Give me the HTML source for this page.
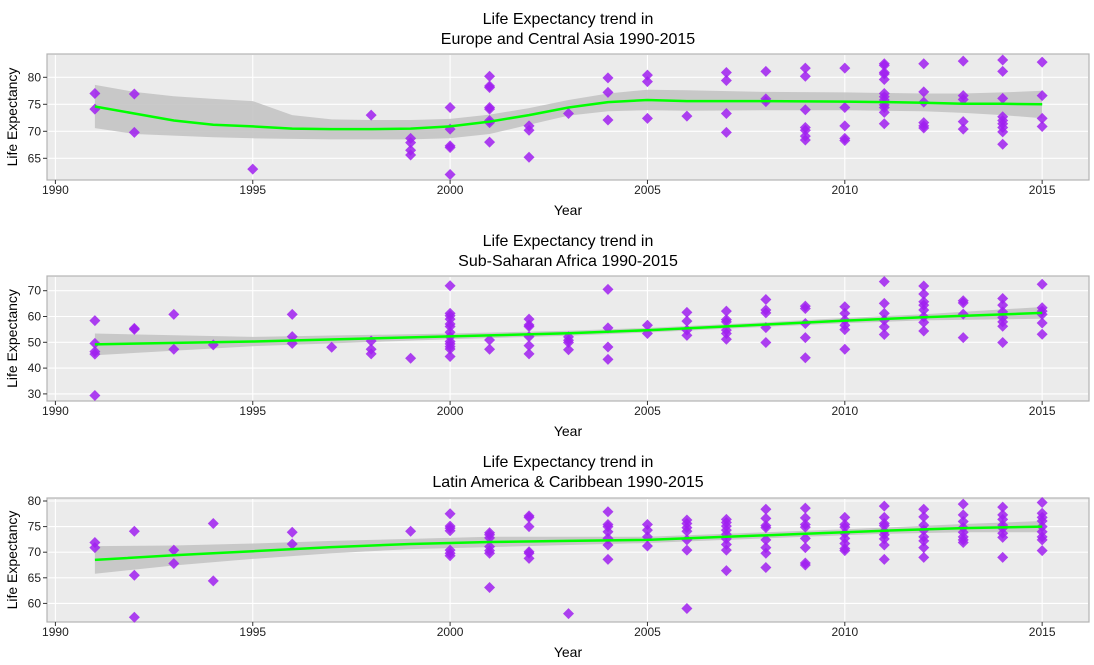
<!DOCTYPE html>
<html><head><meta charset="utf-8">
<style>
html,body{margin:0;padding:0;background:#fff;}
svg{display:block;font-family:"Liberation Sans",Arial,sans-serif;}
</style></head>
<body>
<svg id="chart" width="1094" height="665" viewBox="0 0 1094 665"></svg>
<script>
// ---- Panel 1: Europe and Central Asia ----
const p1Years = [1991,1992,1995,1998,1999,2000,2001,2002,2003,2004,2005,2006,2007,2008,2009,2010,2011,2012,2013,2014,2015];
const p1Values = [[77.0,74.1],[76.9,69.8],[63.0],[73.0],[68.7,67.9,66.5,65.6],[74.4,70.4,67.3,67.0,62.0],[80.2,78.4,78.1,74.4,74.1,72.0,71.6,68.0],[71.0,70.2,65.2],[73.3],[79.9,77.2,72.1],[80.4,79.2,72.4],[72.8],[80.9,79.4,73.3,69.8],[81.1,76.0,75.5],[81.7,80.2,74.0,70.7,70.2,69.1,68.4],[81.7,74.4,71.0,68.7,68.3],[82.5,82.2,80.9,80.6,79.6,77.0,76.4,75.8,74.9,74.4,73.5,71.4],[82.5,77.3,75.4,71.6,71.0,70.6],[83.0,76.6,75.9,71.8,70.4],[83.2,81.1,76.1,72.7,72.0,71.4,70.7,69.9,67.6],[82.8,76.6,72.4,70.9]];
const p1SmoothYears = [1991,1992,1993,1994,1995,1996,1997,1998,1999,2000,2001,2002,2003,2004,2005,2006,2008,2010,2011,2012,2013,2014,2015];
const p1Smooth = [74.6,73.3,72.0,71.2,70.9,70.5,70.4,70.4,70.5,70.9,71.8,73.0,74.4,75.4,75.8,75.6,75.6,75.5,75.4,75.3,75.1,75.1,75.0];
const p1Upper = [78.6,77.3,76.5,76.0,75.6,73.0,72.2,72.1,72.1,72.3,73.1,74.3,75.8,77.0,77.7,77.6,77.3,77.2,77.1,77.0,77.0,77.2,77.5];
const p1Lower = [70.6,69.5,69.2,68.9,68.7,68.6,68.5,68.5,68.5,68.7,69.5,71.2,72.9,73.7,73.9,73.8,73.9,73.9,73.8,73.7,73.4,73.0,72.4];
const p1YTicks = [65,70,75,80];

// ---- Panel 2: Sub-Saharan Africa ----
const p2Years = [1991,1992,1993,1994,1996,1997,1998,1999,2000,2001,2002,2003,2004,2005,2006,2007,2008,2009,2010,2011,2012,2013,2014,2015];
const p2Values = [[58.4,49.6,46.4,45.4,29.4],[55.4,55.0],[60.8,47.3],[49.0],[60.8,52.2,49.6],[48.1],[50.5,47.3,45.5],[43.8],[71.9,61.2,60.3,59.0,57.1,56.1,53.9,52.2,50.3,49.4,48.3,47.4,44.5],[50.9,47.3],[59.0,56.7,56.1,52.2,48.7,45.5],[52.1,50.8,49.9,47.1],[70.5,55.6,48.2,43.4],[56.6,53.4],[61.6,58.2,54.7,52.7],[62.1,58.8,57.9,54.7,53.4,51.2],[66.6,62.5,61.4,55.7,49.9],[64.0,63.1,57.3,51.8,44.0],[63.8,61.2,58.6,56.6,54.9,47.3],[73.5,65.1,61.2,58.6,56.0,53.0],[71.8,68.7,65.7,64.4,62.5,59.9,57.7,54.4],[66.1,65.3,60.9,51.8],[67.0,64.4,61.8,59.6,57.9,56.2,49.9],[72.5,63.4,62.1,60.8,57.5,53.1]];
const p2SmoothYears = [1991,1995,2000,2003,2005,2008,2010,2012,2015];
const p2Smooth = [49.2,50.3,52.3,53.5,54.7,56.9,58.4,59.7,61.4];
const p2Upper = [53.4,52.1,53.4,54.5,55.6,57.8,59.4,60.9,63.7];
const p2Lower = [45.0,48.5,51.2,52.5,53.8,56.0,57.4,58.5,59.1];
const p2YTicks = [30,40,50,60,70];

// ---- Panel 3: Latin America & Caribbean ----
const p3Years = [1991,1992,1993,1994,1996,1999,2000,2001,2002,2003,2004,2005,2006,2007,2008,2009,2010,2011,2012,2013,2014,2015];
const p3Values = [[71.9,70.9],[74.1,65.5,57.3],[70.4,67.8],[75.6,64.4],[73.9,71.6],[74.1],[77.5,75.1,74.7,74.2,70.4,69.8,69.3],[73.8,73.4,72.8,71.1,70.3,69.8,63.1],[77.1,76.8,75.0,70.1,69.8,68.8],[58.0],[77.9,75.4,75.0,74.0,72.7,71.4,68.6],[75.4,74.3,73.0,71.2],[76.3,75.6,74.8,74.1,72.4,70.4,59.0],[76.4,75.8,75.1,74.3,73.5,72.6,71.5,70.4,66.4],[78.4,76.6,75.2,74.8,72.4,70.9,69.8,67.0],[78.6,76.7,75.4,74.9,72.7,70.9,67.9,67.5],[76.8,75.4,74.9,73.7,72.7,71.7,70.7,70.3],[79.0,76.8,75.6,75.2,74.1,73.4,72.6,71.4,68.6],[78.4,76.9,75.3,74.3,73.0,72.2,70.9,69.0],[79.4,77.3,76.0,74.8,73.9,73.0,72.4,71.9],[78.8,77.3,76.4,75.3,74.7,73.7,72.9,69.0],[79.7,77.6,76.8,76.1,75.0,74.0,73.0,72.4,70.3]];
const p3SmoothYears = [1991,1993,1995,1997,1999,2001,2003,2005,2007,2009,2010,2011,2013,2015];
const p3Smooth = [68.5,69.4,70.2,71.0,71.6,72.0,72.2,72.4,73.0,73.6,73.9,74.2,74.7,75.0];
const p3Upper = [71.2,71.3,71.7,72.2,72.6,73.0,73.0,73.0,73.6,74.2,74.5,74.8,75.5,76.1];
const p3Lower = [65.8,67.4,68.7,69.8,70.6,71.0,71.4,71.8,72.4,73.0,73.3,73.6,73.9,73.9];
const p3YTicks = [60,65,70,75,80];

const xTicks = [1990,1995,2000,2005,2010,2015];

const NS = "http://www.w3.org/2000/svg";
const svg = document.getElementById('chart');
function mk(tag, attrs, parent){
  const e = document.createElementNS(NS, tag);
  for (const k in attrs) e.setAttribute(k, attrs[k]);
  (parent||svg).appendChild(e);
  return e;
}
const L = 47, R = 1089;
function xScale(yr){ return 55.4 + (yr-1990)*39.47; }

const panels = [
  {key:'europe', title1:'Life Expectancy trend in', title2:'Europe and Central Asia 1990-2015', top:54, bottom:180, y0:80, py0:77.3, ppu:5.4, ticks:p1YTicks, years:p1Years, vals:p1Values, sy:p1SmoothYears, sm:p1Smooth, up:p1Upper, lo:p1Lower, titleY:18},
  {key:'africa', title1:'Life Expectancy trend in', title2:'Sub-Saharan Africa 1990-2015', top:276, bottom:401, y0:70, py0:290.7, ppu:2.58, ticks:p2YTicks, years:p2Years, vals:p2Values, sy:p2SmoothYears, sm:p2Smooth, up:p2Upper, lo:p2Lower, titleY:240},
  {key:'latam', title1:'Life Expectancy trend in', title2:'Latin America & Caribbean 1990-2015', top:498, bottom:622, y0:80, py0:501, ppu:5.12, ticks:p3YTicks, years:p3Years, vals:p3Values, sy:p3SmoothYears, sm:p3Smooth, up:p3Upper, lo:p3Lower, titleY:461}
];

panels.forEach(p=>{
  const yS = v => p.py0 + (p.y0 - v)*p.ppu;
  const g = mk('g', {});
  
  
  const bg = mk('rect', {x:L, y:p.top, width:R-L, height:p.bottom-p.top, fill:'#ebebeb', stroke:'#b3b3b3', 'stroke-width':1.2}, g);
  
  
  p.ticks.forEach(t=>{
    const y = yS(t);
    const gl = mk('line', {x1:L+1, x2:R-1, y1:y, y2:y, stroke:'#fff', 'stroke-width':1.1}, g);
    
    
    mk('line', {x1:L-4, x2:L, y1:y, y2:y, stroke:'#333', 'stroke-width':1}, g);
    const tl = mk('text', {x:L-6, y:y+4, 'text-anchor':'end', 'font-size':12, fill:'#222'}, g);
    tl.textContent = t;
    
    
  });
  xTicks.forEach(t=>{
    const x = xScale(t);
    const gl = mk('line', {x1:x, x2:x, y1:p.top+1, y2:p.bottom-1, stroke:'#fff', 'stroke-width':1.1}, g);
    
    
    mk('line', {x1:x, x2:x, y1:p.bottom, y2:p.bottom+4, stroke:'#333', 'stroke-width':1}, g);
    const tl = mk('text', {x:x, y:p.bottom+14, 'text-anchor':'middle', 'font-size':12, fill:'#222'}, g);
    tl.textContent = t;
    
    
  });
  let d = '';
  p.sy.forEach((yr,i)=>{ d += (i?'L':'M') + xScale(yr).toFixed(1)+','+yS(p.up[i]).toFixed(1); });
  for (let i=p.sy.length-1;i>=0;i--) d += 'L'+xScale(p.sy[i]).toFixed(1)+','+yS(p.lo[i]).toFixed(1);
  const band = mk('path', {d:d+'Z', fill:'#c4c4c4', opacity:0.9}, g);
  
  
  p.years.forEach((yr,i)=>{
    p.vals[i].forEach(v=>{
      const x = xScale(yr), y = yS(v);
      const pt = mk('path', {d:`M${x},${y-5.5}L${x+5.5},${y}L${x},${y+5.5}L${x-5.5},${y}Z`, fill:'#a020f0', 'fill-opacity':0.85}, g);
      
      
    });
  });
  let ld = '';
  p.sy.forEach((yr,i)=>{ ld += (i?'L':'M') + xScale(yr).toFixed(1)+','+yS(p.sm[i]).toFixed(1); });
  const line = mk('path', {d:ld, fill:'none', stroke:'#00ff00', 'stroke-width':2.5}, g);
  
  
  const cx = (L+R)/2;
  const t1 = mk('text', {x:cx, y:p.titleY+6, 'text-anchor':'middle', 'font-size':16, fill:'#000'}, g);
  t1.textContent = p.title1;
  
  
  const t2 = mk('text', {x:cx, y:p.titleY+26, 'text-anchor':'middle', 'font-size':16, fill:'#000'}, g);
  t2.textContent = p.title2;
  
  
  const xt = mk('text', {x:568, y:p.bottom+35, 'text-anchor':'middle', 'font-size':14, fill:'#000'}, g);
  xt.textContent = 'Year';
  
  
  const my = (p.top+p.bottom)/2;
  const yt = mk('text', {x:17, y:my, 'text-anchor':'middle', 'font-size':14, fill:'#000', transform:`rotate(-90 17 ${my})`}, g);
  yt.textContent = 'Life Expectancy';
  
  
});
</script>
</body></html>
